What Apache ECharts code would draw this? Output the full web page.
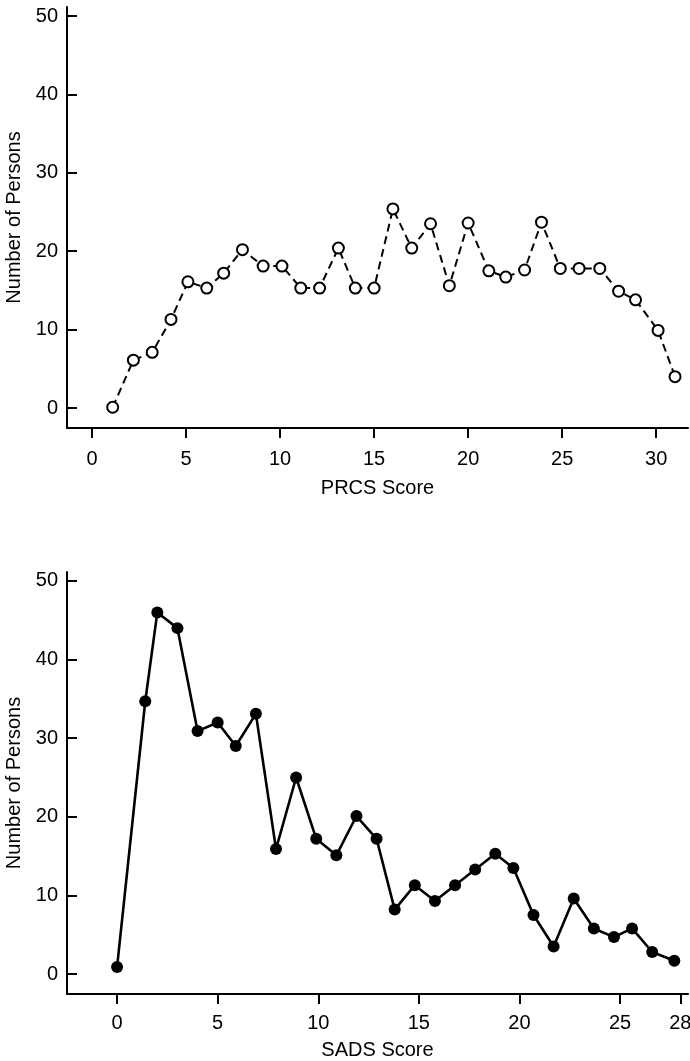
<!DOCTYPE html>
<html>
<head>
<meta charset="utf-8">
<script src="https://cdn.jsdelivr.net/npm/echarts@6/dist/echarts.min.js"></script>
<style>
html,body{margin:0;padding:0;background:#fff;}
#chart{width:690px;height:1061px;}
</style>
</head>
<body>
<div id="chart"></div>
<script>
// ---- Data ----
var prcsScores = [1.1, 2.2, 3.2, 4.2, 5.1, 6.1, 7.0, 8.0, 9.1, 10.1, 11.1, 12.1, 13.1, 14.0, 15.0, 16.0, 17.0, 18.0, 19.0, 20.0, 21.1, 22.0, 23.0, 23.9, 24.9, 25.9, 27.0, 28.0, 28.9, 30.1, 31.0];
var prcsPersons = [0.1, 6.1, 7.1, 11.3, 16.1, 15.3, 17.2, 20.2, 18.1, 18.1, 15.3, 15.3, 20.4, 15.3, 15.3, 25.4, 20.4, 23.5, 15.6, 23.6, 17.5, 16.7, 17.6, 23.7, 17.8, 17.8, 17.8, 14.9, 13.8, 9.9, 4.0];
var prcsTicks = [0, 5, 10, 15, 20, 25, 30];

var sadsScores = [0, 1.4, 2.0, 3.0, 4.0, 5.0, 5.9, 6.9, 7.9, 8.9, 9.9, 10.9, 11.9, 12.9, 13.8, 14.8, 15.8, 16.8, 17.8, 18.8, 19.7, 20.7, 21.7, 22.7, 23.7, 24.7, 25.6, 26.6, 27.7];
var sadsPersons = [0.9, 34.7, 46.0, 44.0, 30.9, 32.0, 29.0, 33.1, 15.9, 25.0, 17.2, 15.1, 20.1, 17.2, 8.2, 11.3, 9.3, 11.3, 13.3, 15.3, 13.5, 7.5, 3.5, 9.6, 5.8, 4.7, 5.8, 2.8, 1.7];
var sadsTicks = [0, 5, 10, 15, 20, 25, 28];

var personTicks = [0, 10, 20, 30, 40, 50];

function pairs(xs, ys) { return xs.map(function (x, i) { return [x, ys[i]]; }); }

var FONT = '"Liberation Sans", Arial, Helvetica, sans-serif';
var INK = '#000';

function xAxis(gridIndex, min, max, ticks, name, nameGap, margin) {
  return {
    type: 'value', gridIndex: gridIndex, min: min, max: max,
    name: name, nameLocation: 'middle', nameGap: nameGap,
    nameTextStyle: { color: INK, fontSize: 20, fontFamily: FONT },
    axisLine: { show: true, onZero: false, lineStyle: { color: INK, width: 2 } },
    axisTick: { show: true, inside: false, length: 10, customValues: ticks, lineStyle: { color: INK, width: 2 } },
    axisLabel: { show: true, customValues: ticks, margin: margin, color: INK, fontSize: 20, fontFamily: FONT },
    splitLine: { show: false }
  };
}
function yAxis(gridIndex, min, max) {
  return {
    type: 'value', gridIndex: gridIndex, min: min, max: max,
    name: 'Number of Persons', nameLocation: 'middle', nameGap: 41, nameRotate: 90,
    nameTextStyle: { color: INK, fontSize: 20, fontFamily: FONT },
    axisLine: { show: true, onZero: false, lineStyle: { color: INK, width: 2 } },
    axisTick: { show: true, inside: true, length: 10, customValues: personTicks, lineStyle: { color: INK, width: 2 } },
    axisLabel: { show: true, customValues: personTicks, margin: 9, color: INK, fontSize: 20, fontFamily: FONT },
    splitLine: { show: false }
  };
}

var chart = echarts.init(document.getElementById('chart'), null, { renderer: 'canvas' });
chart.setOption({
  animation: false,
  backgroundColor: '#fff',
  grid: [
    { left: 67, right: 2, top: 7, bottom: 633, outerBoundsMode: 'none', containLabel: false },
    { left: 67, right: 2, top: 572, bottom: 67, outerBoundsMode: 'none', containLabel: false }
  ],
  xAxis: [
    xAxis(0, -1.33, 31.69, prcsTicks, 'PRCS Score', 50, 21),
    xAxis(1, -2.49, 28.38, sadsTicks, 'SADS Score', 46, 19)
  ],
  yAxis: [
    yAxis(0, -2.55, 51.15),
    yAxis(1, -2.54, 51.14)
  ],
  series: [
    {
      type: 'line', xAxisIndex: 0, yAxisIndex: 0,
      data: pairs(prcsScores, prcsPersons),
      symbol: 'circle', symbolSize: 11, showAllSymbol: true,
      lineStyle: { color: INK, width: 2, type: [8, 5] },
      itemStyle: { color: '#fff', borderColor: INK, borderWidth: 2 },
      z: 3
    },
    {
      type: 'line', xAxisIndex: 1, yAxisIndex: 1,
      data: pairs(sadsScores, sadsPersons),
      symbol: 'circle', symbolSize: 12, showAllSymbol: true,
      lineStyle: { color: INK, width: 2.6 },
      itemStyle: { color: INK, borderColor: INK, borderWidth: 0 },
      z: 3
    }
  ]
});
</script>
</body>
</html>
